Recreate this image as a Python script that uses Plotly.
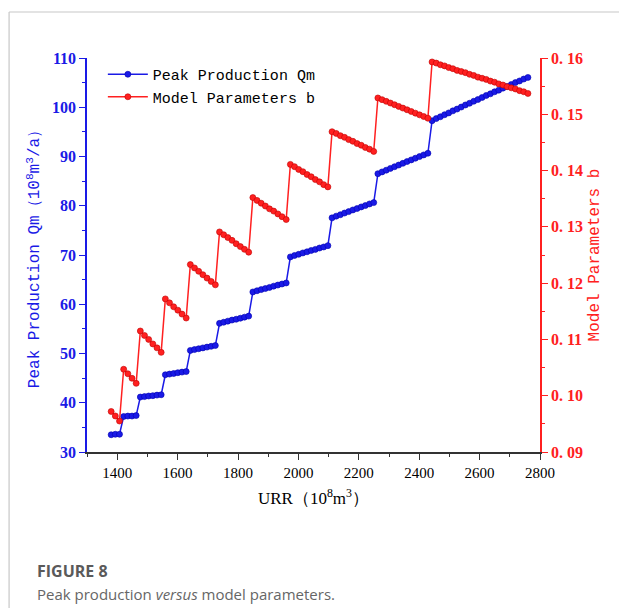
import plotly.graph_objects as go

# URR (10^8 m^3)
urr = [1380.0, 1393.8, 1407.6,
       1421.4, 1435.2, 1449.0, 1462.8,
       1476.6, 1490.4, 1504.2, 1518.0, 1531.8, 1545.6,
       1559.4, 1573.2, 1587.0, 1600.8, 1614.6, 1628.4,
       1642.2, 1656.0, 1669.8, 1683.6, 1697.4, 1711.2, 1725.0,
       1738.8, 1752.6, 1766.4, 1780.2, 1794.0, 1807.8, 1821.6, 1835.4,
       1849.2, 1863.0, 1876.8, 1890.6, 1904.4, 1918.2, 1932.0, 1945.8, 1959.6,
       1973.4, 1987.2, 2001.0, 2014.8, 2028.6, 2042.4, 2056.2, 2070.0, 2083.8, 2097.6,
       2111.4, 2125.2, 2139.0, 2152.8, 2166.6, 2180.4, 2194.2, 2208.0, 2221.8, 2235.6, 2249.4,
       2263.2, 2277.0, 2290.8, 2304.6, 2318.4, 2332.2, 2346.0, 2359.8, 2373.6, 2387.4, 2401.2, 2415.0, 2428.8,
       2442.6, 2456.4, 2470.2, 2484.0, 2497.8, 2511.6, 2525.4, 2539.2, 2553.0, 2566.8, 2580.6, 2594.4,
       2608.2, 2622.0, 2635.8, 2649.6, 2663.4, 2677.2, 2691.0, 2704.8, 2718.6, 2732.4, 2746.2, 2760.0]

# Peak production Qm (10^8 m^3/a)
peak_qm = [33.5, 33.6, 33.6,
           37.2, 37.3, 37.3, 37.4,
           41.16, 41.25, 41.37, 41.44, 41.55, 41.62,
           45.69, 45.82, 45.94, 46.10, 46.22, 46.33,
           50.62, 50.80, 50.97, 51.14, 51.30, 51.46, 51.62,
           56.12, 56.35, 56.57, 56.79, 56.96, 57.17, 57.38, 57.59,
           62.50, 62.74, 62.97, 63.19, 63.42, 63.68, 63.90, 64.11, 64.32,
           69.61, 69.90, 70.14, 70.42, 70.65, 70.92, 71.14, 71.42, 71.63, 71.90,
           77.54, 77.89, 78.18, 78.52, 78.81, 79.15, 79.43, 79.76, 80.04, 80.37, 80.64,
           86.51, 86.87, 87.22, 87.58, 87.93, 88.27, 88.62, 88.97, 89.31, 89.65, 89.99, 90.32, 90.66,
           97.27, 97.70, 98.07, 98.49, 98.85, 99.27, 99.63, 100.04, 100.46, 100.81, 101.22, 101.57,
           101.98, 102.39, 102.73, 103.14, 103.47, 103.88, 104.21, 104.61, 105.01, 105.34, 105.73, 106.05]

# Model parameter b
model_b = [0.0972, 0.0964, 0.0955,
           0.1047, 0.1039, 0.1031, 0.1022,
           0.1115, 0.1107, 0.1100, 0.1092, 0.1085, 0.1077,
           0.1172, 0.1165, 0.1158, 0.1152, 0.1145, 0.1138,
           0.1233, 0.1227, 0.1221, 0.1215, 0.1209, 0.1203, 0.1197,
           0.1291, 0.1286, 0.1281, 0.1276, 0.1270, 0.1265, 0.1260, 0.1255,
           0.1352, 0.1347, 0.1342, 0.1337, 0.1332, 0.1328, 0.1323, 0.1318, 0.1313,
           0.1411, 0.1407, 0.1402, 0.1398, 0.1393, 0.1389, 0.1384, 0.1380, 0.1375, 0.1371,
           0.1469, 0.1466, 0.1462, 0.1459, 0.1455, 0.1452, 0.1448, 0.1445, 0.1441, 0.1438, 0.1434,
           0.1529, 0.1526, 0.1523, 0.1520, 0.1517, 0.1514, 0.1511, 0.1508, 0.1505, 0.1502, 0.1499, 0.1496, 0.1493,
           0.1593, 0.1591, 0.1588, 0.1586, 0.1583, 0.1581, 0.1578, 0.1576, 0.1574, 0.1571, 0.1569, 0.1566,
           0.1564, 0.1562, 0.1559, 0.1557, 0.1554, 0.1552, 0.1549, 0.1547, 0.1545, 0.1542, 0.1540, 0.1537]

x_ticks = [1400, 1600, 1800, 2000, 2200, 2400, 2600, 2800]
left_ticks = [30, 40, 50, 60, 70, 80, 90, 100, 110]
right_ticks = [0.09, 0.10, 0.11, 0.12, 0.13, 0.14, 0.15, 0.16]
right_ticktext = ["0. 09", "0. 10", "0. 11", "0. 12", "0. 13", "0. 14", "0. 15", "0. 16"]

BLUE = "#1a1ae6"
RED = "#ff2020"
MONO = "Liberation Mono, Courier New, monospace"
SERIF = "Liberation Serif, Times New Roman, serif"

fig = go.Figure()
fig.add_trace(go.Scatter(
    x=urr, y=peak_qm, name="Peak Production Qm", mode="lines+markers",
    line=dict(color=BLUE, width=1.5),
    marker=dict(symbol="circle", size=6, color=BLUE, line=dict(color="#0000b0", width=0.6)),
))
fig.add_trace(go.Scatter(
    x=urr, y=model_b, name="Model Parameters b", mode="lines+markers", yaxis="y2",
    line=dict(color=RED, width=1.5),
    marker=dict(symbol="circle", size=6, color=RED, line=dict(color="#c00000", width=0.6)),
))

fig.update_layout(
    width=619, height=608,
    margin=dict(l=87, r=79, t=58, b=156),
    paper_bgcolor="white", plot_bgcolor="white",
    showlegend=True,
    legend=dict(x=0.035, y=1.0, xanchor="left", yanchor="top",
                bgcolor="rgba(0,0,0,0)", font=dict(family=MONO, size=15, color="black"),
                itemwidth=40, tracegroupgap=0),
    xaxis=dict(
        range=[1300, 2800], tickvals=x_ticks, showgrid=False, zeroline=False,
        showline=True, linecolor="#333333", linewidth=1.5,
        ticks="outside", ticklen=6, tickwidth=1.3, tickcolor="#333333",
        minor=dict(dtick=100, tick0=1300, ticks="outside", ticklen=3, tickcolor="#333333", tickwidth=1),
        tickfont=dict(family=SERIF, size=15, color="black"),
        title=dict(text="URR（10<sup>8</sup>m<sup>3</sup>）", font=dict(family=SERIF, size=17, color="black"), standoff=12),
    ),
    yaxis=dict(
        range=[30, 110], tickvals=left_ticks, showgrid=False, zeroline=False,
        showline=True, linecolor=BLUE, linewidth=1.5,
        ticks="outside", ticklen=6, tickwidth=1.3, tickcolor=BLUE,
        minor=dict(dtick=5, tick0=30, ticks="outside", ticklen=3, tickcolor=BLUE, tickwidth=1),
        tickfont=dict(family=SERIF, size=16, color=BLUE, weight="bold"),
        title=dict(text="Peak Production Qm（10<sup>8</sup>m<sup>3</sup>/a）",
                   font=dict(family=MONO, size=16, color=BLUE), standoff=8),
    ),
    yaxis2=dict(
        range=[0.09, 0.16], tickvals=right_ticks, ticktext=right_ticktext,
        overlaying="y", side="right", showgrid=False, zeroline=False,
        showline=True, linecolor=RED, linewidth=1.5,
        ticks="outside", ticklen=6, tickwidth=1.3, tickcolor=RED,
        minor=dict(dtick=0.005, tick0=0.09, ticks="outside", ticklen=3, tickcolor=RED, tickwidth=1),
        tickfont=dict(family=SERIF, size=16, color=RED, weight="bold"),
        title=dict(text="Model Parameters b", font=dict(family=MONO, size=16, color=RED), standoff=6),
    ),
    shapes=[
        dict(type="line", xref="paper", yref="paper", x0=-0.172, x1=1.2, y0=1.1168, y1=1.1168,
             line=dict(color="#c8c8c8", width=1.2)),
        dict(type="line", xref="paper", yref="paper", x0=-0.172, x1=-0.172, y0=-0.4, y1=1.1168,
             line=dict(color="#c8c8c8", width=1.2)),
    ],
    annotations=[
        dict(text="<b>FIGURE 8</b>", xref="paper", yref="paper", x=-0.1148, y=-0.3020,
             xanchor="left", yanchor="middle", showarrow=False,
             font=dict(family="Open Sans, sans-serif", size=16, color="#5a5a5a")),
        dict(text="Peak production <i>versus</i> model parameters.", xref="paper", yref="paper",
             x=-0.1148, y=-0.3604, xanchor="left", yanchor="middle", showarrow=False,
             font=dict(family="Open Sans, sans-serif", size=15, color="#666666")),
    ],
)

fig.write_html("out.html")
